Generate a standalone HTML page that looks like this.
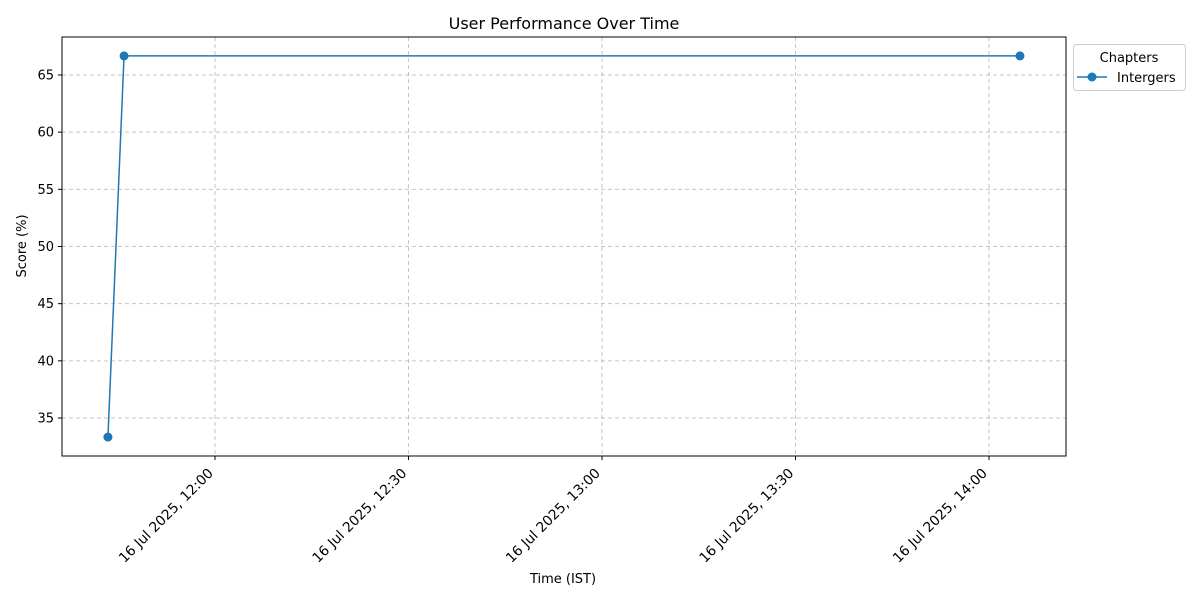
<!DOCTYPE html>
<html><head><meta charset="utf-8"><style>
body{margin:0;background:#fff}
svg{font-family:"DejaVu Sans","Liberation Sans",sans-serif}
</style></head><body>
<svg id="chart" width="1200" height="600" viewBox="0 0 1200 600">
<rect width="1200" height="600" fill="#fff"/>
<text x="564" y="29" text-anchor="middle" font-size="16">User Performance Over Time</text>
<g id="grid"></g>
<g id="axes"></g>
<g id="series"></g>
<rect x="62" y="37" width="1004" height="419" fill="none" stroke="#000" stroke-width="1"/>
<text x="563" y="583" text-anchor="middle" font-size="13">Time (IST)</text>
<text transform="translate(26,246) rotate(-90)" text-anchor="middle" font-size="13">Score (%)</text>
<g>
<rect x="1073.5" y="44.5" width="112" height="46" rx="3" fill="#fff" stroke="#ccc"/>
<text x="1129" y="62" text-anchor="middle" font-size="13">Chapters</text>
<line x1="1077" y1="77" x2="1107" y2="77" stroke="#1f77b4" stroke-width="1.5"/>
<circle cx="1092" cy="77" r="4.5" fill="#1f77b4"/>
<text x="1117" y="82" font-size="13">Intergers</text>
</g>
</svg>
<script>
const times = ["11:43:24","11:45:54","14:04:48"];
const scores = [33.33, 66.67, 66.67];
const yTicks = [35,40,45,50,55,60,65];
const xTicks = ["12:00","12:30","13:00","13:30","14:00"];
const dateLabel = "16 Jul 2025";
const NS="http://www.w3.org/2000/svg";
function mins(t){const p=t.split(":").map(Number);return p[0]*60+p[1]+(p[2]||0)/60;}
function xs(t){return 215+(mins(t)-720)*(193.5/30);}
function ys(v){return 418-(v-35)*(57.17/5);}
function mk(tag,a,parent){const e=document.createElementNS(NS,tag);for(const k in a)e.setAttribute(k,a[k]);parent.appendChild(e);return e;}
const grid=document.getElementById('grid'),axes=document.getElementById('axes'),ser=document.getElementById('series');
yTicks.forEach(v=>{const y=ys(v);
 const g=mk('line',{x1:62,x2:1066,y1:y,y2:y,stroke:'#a0a0a0','stroke-opacity':0.6,'stroke-dasharray':'4,3'},grid);
 
 
 mk('line',{x1:58,x2:62,y1:y,y2:y,stroke:'#000'},axes);
 const t=mk('text',{x:54,y:y+4.5,'text-anchor':'end','font-size':13},axes);t.textContent=v;
 
 
});
xTicks.forEach(s=>{const x=xs(s);
 const g=mk('line',{x1:x,x2:x,y1:37,y2:456,stroke:'#a0a0a0','stroke-opacity':0.6,'stroke-dasharray':'4,3'},grid);
 
 
 mk('line',{x1:x,x2:x,y1:456,y2:460,stroke:'#000'},axes);
 const t=mk('text',{x:0,y:0,'text-anchor':'end','font-size':13.8,transform:`translate(${x-1},${474}) rotate(-45)`},axes);
 t.textContent=dateLabel+", "+s;
 
 
});
const pts=times.map((t,i)=>[xs(t),ys(scores[i])]);
const pl=mk('polyline',{points:pts.map(p=>p.join(',')).join(' '),fill:'none',stroke:'#1f77b4','stroke-width':1.5},ser);


pts.forEach(p=>{const c=mk('circle',{cx:p[0],cy:p[1],r:4.5,fill:'#1f77b4'},ser);
 
 
});
</script>
</body></html>
